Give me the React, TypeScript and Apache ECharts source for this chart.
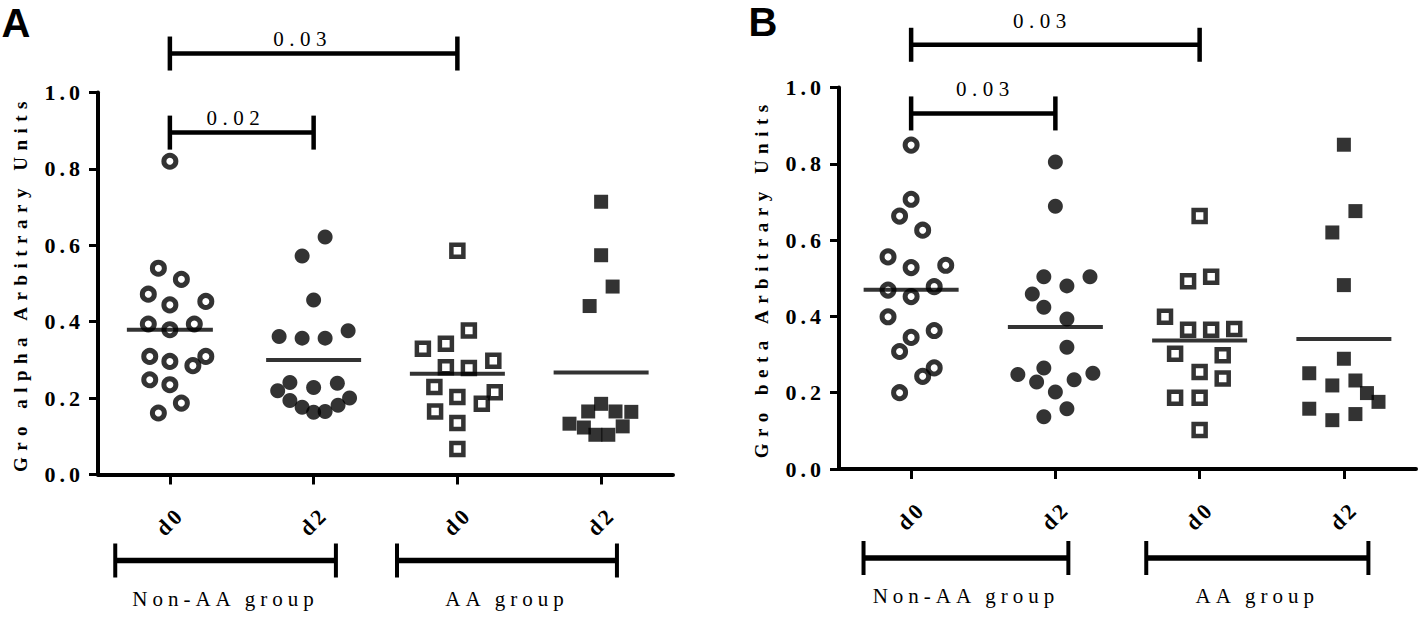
import React, { useEffect, useRef } from 'react';
import * as echarts from 'echarts';

// ---------- data ----------
const categories = ['d0', 'd2', 'd0', 'd2'];
const groupNames = ['Non-AA group', 'AA group'];
const panelLetters = ['A', 'B'];
const yTitles = ['Gro alpha Arbitrary Units', 'Gro beta Arbitrary Units'];

// Panel A (Gro alpha)
const alphaNonAAd0 = [0.82, 0.54, 0.511, 0.472, 0.453, 0.444, 0.394, 0.394, 0.379, 0.309, 0.309, 0.296, 0.285, 0.248, 0.235, 0.187, 0.161];
const alphaNonAAd0Jitter = [0, -0.08, 0.08, -0.15, 0.25, 0, -0.15, 0.17, 0, -0.14, 0.25, 0, 0.16, -0.14, 0, 0.08, -0.08];
const alphaNonAAd2 = [0.622, 0.572, 0.457, 0.376, 0.361, 0.357, 0.357, 0.241, 0.239, 0.228, 0.219, 0.2, 0.194, 0.181, 0.176, 0.165, 0.163];
const alphaNonAAd2Jitter = [0.08, -0.08, 0, 0.24, -0.24, -0.08, 0.08, -0.165, 0.165, 0, -0.25, 0.25, -0.165, 0.17, -0.08, 0.08, 0];
const alphaAAd0 = [0.586, 0.377, 0.342, 0.329, 0.298, 0.281, 0.279, 0.229, 0.215, 0.203, 0.185, 0.165, 0.135, 0.067];
const alphaAAd0Jitter = [0, 0.08, -0.08, -0.24, 0.25, -0.08, 0.08, -0.16, 0.26, 0, 0.17, -0.155, 0, 0];
const alphaAAd2 = [0.714, 0.574, 0.492, 0.441, 0.185, 0.165, 0.165, 0.164, 0.133, 0.126, 0.123, 0.104, 0.104];
const alphaAAd2Jitter = [0, 0, 0.08, -0.08, 0, -0.09, 0.1, 0.21, -0.22, 0.15, -0.12, -0.04, 0.05];
const alphaMeans = [0.379, 0.3, 0.264, 0.267];

// Panel B (Gro beta)
const betaNonAAd0 = [0.849, 0.707, 0.663, 0.626, 0.556, 0.534, 0.528, 0.478, 0.469, 0.452, 0.399, 0.363, 0.345, 0.308, 0.265, 0.243, 0.2];
const betaNonAAd0Jitter = [0, 0, -0.08, 0.08, -0.16, 0.24, 0, 0.16, -0.16, 0, -0.16, 0.16, 0, -0.08, 0.16, 0.08, -0.08];
const betaNonAAd2 = [0.805, 0.689, 0.504, 0.504, 0.48, 0.459, 0.424, 0.393, 0.319, 0.265, 0.251, 0.248, 0.234, 0.228, 0.202, 0.158, 0.137];
const betaNonAAd2Jitter = [0, 0, -0.08, 0.24, 0.08, -0.16, -0.08, 0.08, 0.08, -0.08, 0.26, -0.26, 0.13, -0.13, 0, 0.08, -0.08];
const betaAAd0 = [0.663, 0.504, 0.492, 0.399, 0.367, 0.365, 0.365, 0.302, 0.298, 0.254, 0.237, 0.187, 0.187, 0.102];
const betaAAd0Jitter = [0, 0.08, -0.08, -0.24, 0.24, -0.08, 0.08, -0.17, 0.16, 0, 0.16, -0.17, 0, 0];
const betaAAd2 = [0.85, 0.676, 0.62, 0.482, 0.289, 0.251, 0.232, 0.219, 0.199, 0.176, 0.158, 0.144, 0.128];
const betaAAd2Jitter = [0, 0.08, -0.08, 0, 0, -0.24, 0.08, -0.08, 0.16, 0.24, -0.24, 0.08, -0.08];
const betaMeans = [0.47, 0.372, 0.337, 0.341];

// significance annotations: [fromCategory, toCategory], level (in axis units), label
const alphaSigPairs = [[0, 2], [0, 1]];
const alphaSigLevels = [1.102, 0.895];
const alphaSigLabels = ['0.03', '0.02'];
const betaSigPairs = [[0, 2], [0, 1]];
const betaSigLevels = [1.112, 0.932];
const betaSigLabels = ['0.03', '0.03'];

// ---------- layout / style ----------
const panels = [
  {
    groups: [alphaNonAAd0, alphaNonAAd2, alphaAAd0, alphaAAd2],
    jitters: [alphaNonAAd0Jitter, alphaNonAAd2Jitter, alphaAAd0Jitter, alphaAAd2Jitter],
    means: alphaMeans,
    sigPairs: alphaSigPairs, sigLevels: alphaSigLevels, sigLabels: alphaSigLabels,
    grid: { left: 98, top: 92.5, width: 575, height: 382 },
    letterPos: [16, 23],
    sigTextGap: 15,
    sigTextShift: [-11, -6],
    groupSpans: [[-0.38, 1.155], [1.58, 3.11]],
    groupLineGap: 86,
  },
  {
    groups: [betaNonAAd0, betaNonAAd2, betaAAd0, betaAAd2],
    jitters: [betaNonAAd0Jitter, betaNonAAd2Jitter, betaAAd0Jitter, betaAAd2Jitter],
    means: betaMeans,
    sigPairs: betaSigPairs, sigLevels: betaSigLevels, sigLabels: betaSigLabels,
    grid: { left: 839, top: 87.5, width: 577, height: 381.5 },
    letterPos: [763, 22],
    sigTextGap: 24,
    sigTextShift: [-13, 2],
    groupSpans: [[-0.33, 1.09], [1.63, 3.17]],
    groupLineGap: 89,
  },
];

// categories sit at the middle of unit bands on the hidden value axis [0, 4]
const CAT_OFFSET = 0.5;

const SERIF = "'Liberation Serif', 'Times New Roman'";
const symbolStyles = [
  { symbol: 'circle', symbolSize: 12, itemStyle: { color: '#fff', borderColor: '#000', borderWidth: 5 } },
  { symbol: 'circle', symbolSize: 15, itemStyle: { color: '#000', borderColor: '#000', borderWidth: 0 } },
  { symbol: 'rect', symbolSize: 12, itemStyle: { color: '#fff', borderColor: '#000', borderWidth: 4.5 } },
  { symbol: 'rect', symbolSize: 14, itemStyle: { color: '#000', borderColor: '#000', borderWidth: 0 } },
];

const css = `
svg text[style*="lsTick"] { letter-spacing: 4px; }
svg text[style*="lsTitle"] { letter-spacing: 6.5px; }
svg text[style*="lsCat"] { letter-spacing: 3px; }
svg text[style*="lsNum"] { letter-spacing: 5.5px; }
svg text[style*="lsGroup"] { letter-spacing: 5px; }
`;

export default function App() {
  const ref = useRef<HTMLDivElement>(null);

  useEffect(() => {
    if (!ref.current) return;
    const chart = echarts.init(ref.current, null, { renderer: 'svg' });

    const grids: any[] = [];
    const xAxes: any[] = [];
    const yAxes: any[] = [];
    const series: any[] = [];

    panels.forEach((p, pi) => {
      grids.push({ ...p.grid, containLabel: false });
      xAxes.push({
        type: 'category',
        gridIndex: pi,
        position: 'bottom',
        data: categories,
        boundaryGap: true,
        axisLine: { show: true, lineStyle: { color: '#000', width: 4 } },
        axisTick: { show: true, alignWithLabel: true, length: 10, lineStyle: { color: '#000', width: 3 } },
        axisLabel: {
          interval: 0,
          rotate: 45,
          margin: 47,
          align: 'center',
          verticalAlign: 'middle',
          color: '#000',
          fontWeight: 'bold',
          fontSize: 22,
          fontFamily: SERIF + ', lsCat',
        },
        splitLine: { show: false },
      });
      xAxes.push({
        type: 'value',
        gridIndex: pi,
        position: 'bottom',
        min: 0,
        max: 4,
        axisLine: { show: false },
        axisTick: { show: false },
        axisLabel: { show: false },
        splitLine: { show: false },
      });
      yAxes.push({
        type: 'value',
        gridIndex: pi,
        position: 'left',
        min: 0,
        max: 1,
        interval: 0.2,
        name: yTitles[pi],
        nameLocation: 'middle',
        nameRotate: 90,
        nameGap: 68,
        nameTextStyle: { color: '#000', fontWeight: 'bold', fontSize: 19, fontFamily: SERIF + ', lsTitle' },
        axisLine: { show: true, lineStyle: { color: '#000', width: 4 } },
        axisTick: { show: true, length: 9, lineStyle: { color: '#000', width: 3 } },
        axisLabel: {
          color: '#000',
          fontWeight: 'bold',
          fontSize: 22,
          fontFamily: SERIF + ', lsTick',
          margin: 14,
          padding: [8, 0, 0, 0],
          formatter: (v: number) => v.toFixed(1),
        },
        splitLine: { show: false },
      });
    });

    // points
    panels.forEach((p, pi) => {
      p.groups.forEach((vals, gi) => {
        series.push({
          type: 'scatter',
          xAxisIndex: pi * 2 + 1,
          yAxisIndex: pi,
          ...symbolStyles[gi],
          z: 2,
          data: vals.map((v, i) => [gi + CAT_OFFSET + p.jitters[gi][i], v]),
        });
      });
    });
    // mean lines
    panels.forEach((p, pi) => {
      series.push({
        type: 'scatter',
        xAxisIndex: pi * 2 + 1,
        yAxisIndex: pi,
        symbol: 'rect',
        symbolSize: (_v: any, params: any) => [params.dataIndex === 0 && pi === 0 ? 86 : 95, 4],
        itemStyle: { color: '#000' },
        z: 5,
        data: p.means.map((m, gi) => [gi + CAT_OFFSET, m]),
      });
    });

    chart.setOption({
      animation: false,
      backgroundColor: '#fff',
      grid: grids,
      xAxis: xAxes,
      yAxis: yAxes,
      series,
    });

    // annotations positioned through the chart's own scales
    const graphics: any[] = [];
    const lineStyle = (w: number) => ({ stroke: '#000', lineWidth: w, lineCap: 'butt' });
    panels.forEach((p, pi) => {
      const sIdx = pi * 4;
      const toPx = (x: number, y: number) =>
        chart.convertToPixel({ seriesIndex: sIdx }, [x + CAT_OFFSET, y]) as number[];

      graphics.push({
        type: 'text',
        style: {
          text: panelLetters[pi],
          x: p.letterPos[0],
          y: p.letterPos[1],
          font: "bold 40px 'Liberation Sans', Arial",
          fill: '#000',
          textAlign: 'center',
          textVerticalAlign: 'middle',
          align: 'center',
          verticalAlign: 'middle',
        },
      });
      p.sigPairs.forEach((pair, k) => {
        const a = toPx(pair[0], p.sigLevels[k]);
        const b = toPx(pair[1], p.sigLevels[k]);
        const y = a[1];
        graphics.push({ type: 'line', shape: { x1: a[0], y1: y, x2: b[0], y2: y }, style: lineStyle(4.5) });
        graphics.push({ type: 'line', shape: { x1: a[0], y1: y - 17, x2: a[0], y2: y + 17 }, style: lineStyle(4.5) });
        graphics.push({ type: 'line', shape: { x1: b[0], y1: y - 17, x2: b[0], y2: y + 17 }, style: lineStyle(4.5) });
        graphics.push({
          type: 'text',
          style: {
            text: p.sigLabels[k],
            x: (a[0] + b[0]) / 2 + p.sigTextShift[k],
            y: y - p.sigTextGap,
            font: 'normal 21px ' + SERIF + ', lsNum',
            fill: '#000',
            textAlign: 'center',
            textVerticalAlign: 'middle',
            align: 'center',
            verticalAlign: 'middle',
          },
        });
      });
      p.groupSpans.forEach((span, k) => {
        const a = toPx(span[0], 0);
        const b = toPx(span[1], 0);
        const y = a[1] + p.groupLineGap;
        graphics.push({ type: 'line', shape: { x1: a[0], y1: y, x2: b[0], y2: y }, style: lineStyle(5.5) });
        graphics.push({ type: 'line', shape: { x1: a[0], y1: y - 17, x2: a[0], y2: y + 17 }, style: lineStyle(4) });
        graphics.push({ type: 'line', shape: { x1: b[0], y1: y - 17, x2: b[0], y2: y + 17 }, style: lineStyle(4) });
        graphics.push({
          type: 'text',
          style: {
            text: groupNames[k],
            x: (a[0] + b[0]) / 2,
            y: y + 38,
            font: 'normal 21px ' + SERIF + ', lsGroup',
            fill: '#000',
            textAlign: 'center',
            textVerticalAlign: 'middle',
            align: 'center',
            verticalAlign: 'middle',
          },
        });
      });
    });
    chart.setOption({ graphic: graphics });

    return () => chart.dispose();
  }, []);

  return (
    <>
      <style>{css}</style>
      <div
        ref={ref}
        style={{ position: 'absolute', left: 0, top: 0, width: 1418, height: 617, background: '#fff' }}
      />
    </>
  );
}
